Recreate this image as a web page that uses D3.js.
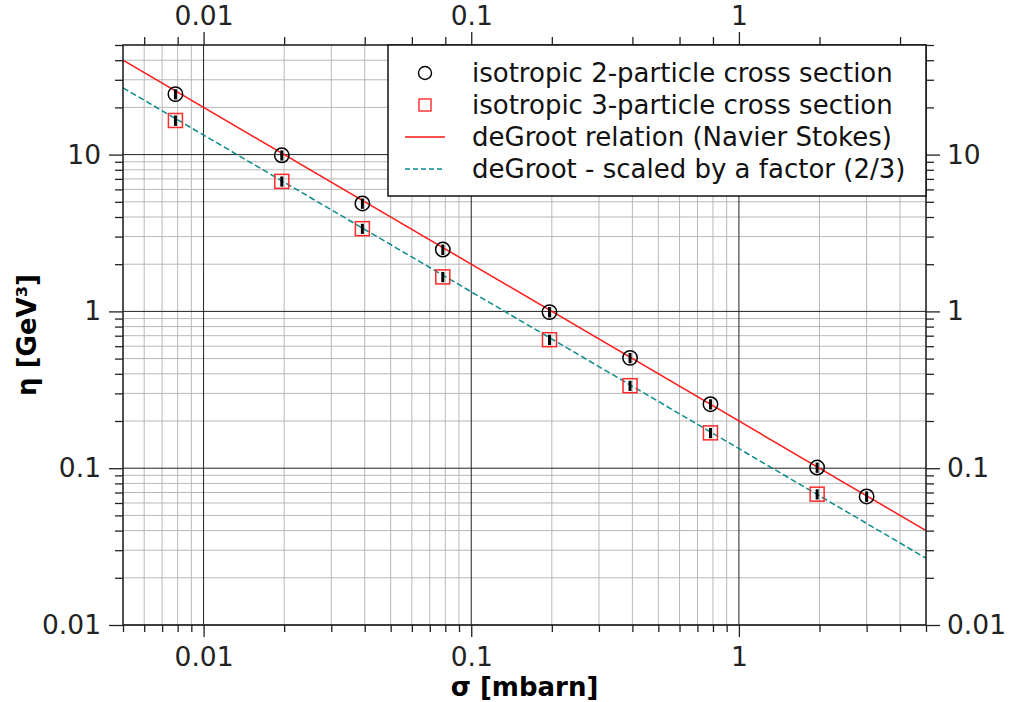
<!DOCTYPE html>
<html>
<head>
<meta charset="utf-8">
<script src="https://cdn.jsdelivr.net/npm/d3@7"></script>
<style>
  body { margin: 0; background: #fff; }
  svg { font-family: "DejaVu Sans", sans-serif; }
</style>
</head>
<body>
<svg width="1010" height="702"></svg>
<script>
const margin = { top: 45, right: 84, bottom: 77, left: 123 };
const width = 1010 - margin.left - margin.right;
const height = 702 - margin.top - margin.bottom;

// data
const sigma2 = [0.00785, 0.0196, 0.0392, 0.0783, 0.196, 0.392, 0.783, 1.96, 3.0];
const eta2 = [24.3, 9.9, 4.88, 2.48, 0.99, 0.505, 0.256, 0.101, 0.066];
const eta2Err = [1.8, 0.74, 0.37, 0.19, 0.075, 0.038, 0.019, 0.0076, 0.005];

const sigma3 = [0.00785, 0.0196, 0.0392, 0.0783, 0.196, 0.392, 0.783, 1.96];
const eta3 = [16.5, 6.75, 3.37, 1.66, 0.66, 0.336, 0.168, 0.0683];
const eta3Err = [1.25, 0.5, 0.25, 0.125, 0.05, 0.025, 0.0126, 0.0051];

// deGroot relation and the scaled one, end points over the x range
const lineSigma = [0.005, 5];
const degroot = [40, 0.04];
const degrootScaled = [26.667, 0.026667];

const xMajor = [0.01, 0.1, 1];
const yMajor = [0.01, 0.1, 1, 10];
const majorLabels = { 0.01: "0.01", 0.1: "0.1", 1: "1", 10: "10" };

const legendLabels = [
    "isotropic 2-particle cross section",
    "isotropic 3-particle cross section",
    "deGroot relation (Navier Stokes)",
    "deGroot - scaled by a factor (2/3)"
];

const svg = d3.select("svg");
const g = svg.append("g").attr("transform", `translate(${margin.left},${margin.top})`);

const xScale = d3.scaleLog().domain([0.005, 5]).range([0, width]);
const yScale = d3.scaleLog().domain([0.01, 50]).range([height, 0]);

// all 1..9 multiples inside the domain
function minors(scale) {
    const [a, b] = scale.domain();
    const out = [];
    for (let e = -3; e <= 2; e++) {
        for (let m = 1; m <= 9; m++) {
            const v = +(m * Math.pow(10, e)).toPrecision(3);
            if (v >= a * 0.999 && v <= b * 1.001) out.push(v);
        }
    }
    return out;
}
const xMinor = minors(xScale).filter(v => !xMajor.includes(v));
const yMinor = minors(yScale).filter(v => !yMajor.includes(v));
// top axis only carries the even multiples
const xTopMinor = xMinor.filter(v => {
    const m = Math.round(v / Math.pow(10, Math.floor(Math.log10(v) + 1e-9)));
    return m % 2 == 0;
});

// grid
g.append("g").selectAll("line").data(xMinor).join("line")
    .attr("x1", d => xScale(d)).attr("x2", d => xScale(d))
    .attr("y1", 0).attr("y2", height)
    .attr("stroke", "#b8b8b8").attr("stroke-width", 1);
g.append("g").selectAll("line").data(yMinor).join("line")
    .attr("y1", d => yScale(d)).attr("y2", d => yScale(d))
    .attr("x1", 0).attr("x2", width)
    .attr("stroke", "#b8b8b8").attr("stroke-width", 1);
g.append("g").selectAll("line").data(xMajor).join("line")
    .attr("x1", d => xScale(d)).attr("x2", d => xScale(d))
    .attr("y1", 0).attr("y2", height)
    .attr("stroke", "#222").attr("stroke-width", 1);
g.append("g").selectAll("line").data(yMajor).join("line")
    .attr("y1", d => yScale(d)).attr("y2", d => yScale(d))
    .attr("x1", 0).attr("x2", width)
    .attr("stroke", "#222").attr("stroke-width", 1);

// axes
function styleAxis(sel) {
    sel.select(".domain").remove();
    sel.selectAll("line").attr("stroke", "#222").attr("stroke-width", 1.3);
    sel.selectAll("text").attr("fill", "#222").style("font-size", "26.5px")
        .style("font-family", "DejaVu Sans");
}
const fmt = d => majorLabels[d];

g.append("g").attr("transform", `translate(0,${height})`)
    .call(d3.axisBottom(xScale).tickValues(xMinor).tickSize(7).tickSizeOuter(0).tickFormat(""))
    .call(styleAxis);
g.append("g").attr("transform", `translate(0,${height})`)
    .call(d3.axisBottom(xScale).tickValues(xMajor).tickSize(12).tickSizeOuter(0).tickPadding(10).tickFormat(fmt))
    .call(styleAxis);

g.append("g")
    .call(d3.axisTop(xScale).tickValues(xTopMinor).tickSize(8).tickSizeOuter(0).tickFormat(""))
    .call(styleAxis);
g.append("g")
    .call(d3.axisTop(xScale).tickValues(xMajor).tickSize(13).tickSizeOuter(0).tickPadding(7).tickFormat(fmt))
    .call(styleAxis);

g.append("g")
    .call(d3.axisLeft(yScale).tickValues(yMinor).tickSize(8).tickSizeOuter(0).tickFormat(""))
    .call(styleAxis);
g.append("g")
    .call(d3.axisLeft(yScale).tickValues(yMajor).tickSize(14).tickSizeOuter(0).tickPadding(8).tickFormat(fmt))
    .call(styleAxis);

g.append("g").attr("transform", `translate(${width},0)`)
    .call(d3.axisRight(yScale).tickValues(yMinor).tickSize(8).tickSizeOuter(0).tickFormat(""))
    .call(styleAxis);
g.append("g").attr("transform", `translate(${width},0)`)
    .call(d3.axisRight(yScale).tickValues(yMajor).tickSize(14).tickSizeOuter(0).tickPadding(7).tickFormat(fmt))
    .call(styleAxis);

// lines
g.append("clipPath").attr("id", "clip")
    .append("rect").attr("width", width).attr("height", height);

const line = d3.line().x(d => xScale(d[0])).y(d => yScale(d[1]));
g.append("path")
    .datum(d3.zip(lineSigma, degroot))
    .attr("d", line).attr("clip-path", "url(#clip)")
    .attr("fill", "none").attr("stroke", "#ff1a1a").attr("stroke-width", 1.5);
g.append("path")
    .datum(d3.zip(lineSigma, degrootScaled))
    .attr("d", line).attr("clip-path", "url(#clip)")
    .attr("fill", "none").attr("stroke", "#0a8a8a").attr("stroke-width", 1.5)
    .attr("stroke-dasharray", "6,3");

// error bars
g.append("g").selectAll("line").data(d3.zip(sigma2, eta2, eta2Err)).join("line")
    .attr("x1", d => xScale(d[0])).attr("x2", d => xScale(d[0]))
    .attr("y1", d => yScale(d[1] - d[2])).attr("y2", d => yScale(d[1] + d[2]))
    .attr("stroke", "#000").attr("stroke-width", 3);
g.append("g").selectAll("line").data(d3.zip(sigma3, eta3, eta3Err)).join("line")
    .attr("x1", d => xScale(d[0])).attr("x2", d => xScale(d[0]))
    .attr("y1", d => yScale(d[1] - d[2])).attr("y2", d => yScale(d[1] + d[2]))
    .attr("stroke", "#000").attr("stroke-width", 3);

// markers
g.append("g").selectAll("circle").data(d3.zip(sigma2, eta2)).join("circle")
    .attr("cx", d => xScale(d[0])).attr("cy", d => yScale(d[1]))
    .attr("r", 7.2)
    .attr("fill", "none").attr("stroke", "#000").attr("stroke-width", 1.5);
g.append("g").selectAll("rect").data(d3.zip(sigma3, eta3)).join("rect")
    .attr("x", d => xScale(d[0]) - 7).attr("y", d => yScale(d[1]) - 7)
    .attr("width", 14).attr("height", 14)
    .attr("fill", "none").attr("stroke", "#ff2a2a").attr("stroke-width", 1.5);

// frame
g.append("rect").attr("width", width).attr("height", height)
    .attr("fill", "none").attr("stroke", "#222").attr("stroke-width", 1.5);

// legend
const leg = g.append("g").attr("transform", `translate(${265},0)`);
leg.append("rect")
    .attr("x", 0).attr("y", 0)
    .attr("width", width - 265).attr("height", 151)
    .attr("fill", "#fff").attr("stroke", "#111").attr("stroke-width", 1.5);

const rowY = i => 28 + i * 32;
leg.append("circle").attr("cx", 37).attr("cy", rowY(0)).attr("r", 6.5)
    .attr("fill", "none").attr("stroke", "#000").attr("stroke-width", 1.4);
leg.append("rect").attr("x", 31).attr("y", rowY(1) - 6).attr("width", 12).attr("height", 12)
    .attr("fill", "none").attr("stroke", "#ff2a2a").attr("stroke-width", 1.4);
leg.append("line").attr("x1", 17).attr("x2", 57).attr("y1", rowY(2)).attr("y2", rowY(2))
    .attr("stroke", "#ff1a1a").attr("stroke-width", 1.5);
leg.append("line").attr("x1", 17).attr("x2", 57).attr("y1", rowY(3)).attr("y2", rowY(3))
    .attr("stroke", "#0a8a8a").attr("stroke-width", 1.5).attr("stroke-dasharray", "5,3");

leg.selectAll("text.lab").data(legendLabels).join("text")
    .attr("class", "lab")
    .attr("x", 84).attr("y", (d, i) => rowY(i))
    .attr("dy", "0.35em")
    .style("font-size", "26px")
    .attr("fill", "#111")
    .text(d => d);

// axis titles
svg.append("text")
    .attr("x", margin.left + width / 2).attr("y", 696)
    .attr("text-anchor", "middle")
    .style("font-size", "26px").style("font-weight", "bold")
    .text("σ [mbarn]");
svg.append("text")
    .attr("transform", `translate(36,${margin.top + height / 2}) rotate(-90)`)
    .attr("text-anchor", "middle")
    .style("font-size", "26px").style("font-weight", "bold")
    .text("η [GeV³]");
</script>
</body>
</html>
